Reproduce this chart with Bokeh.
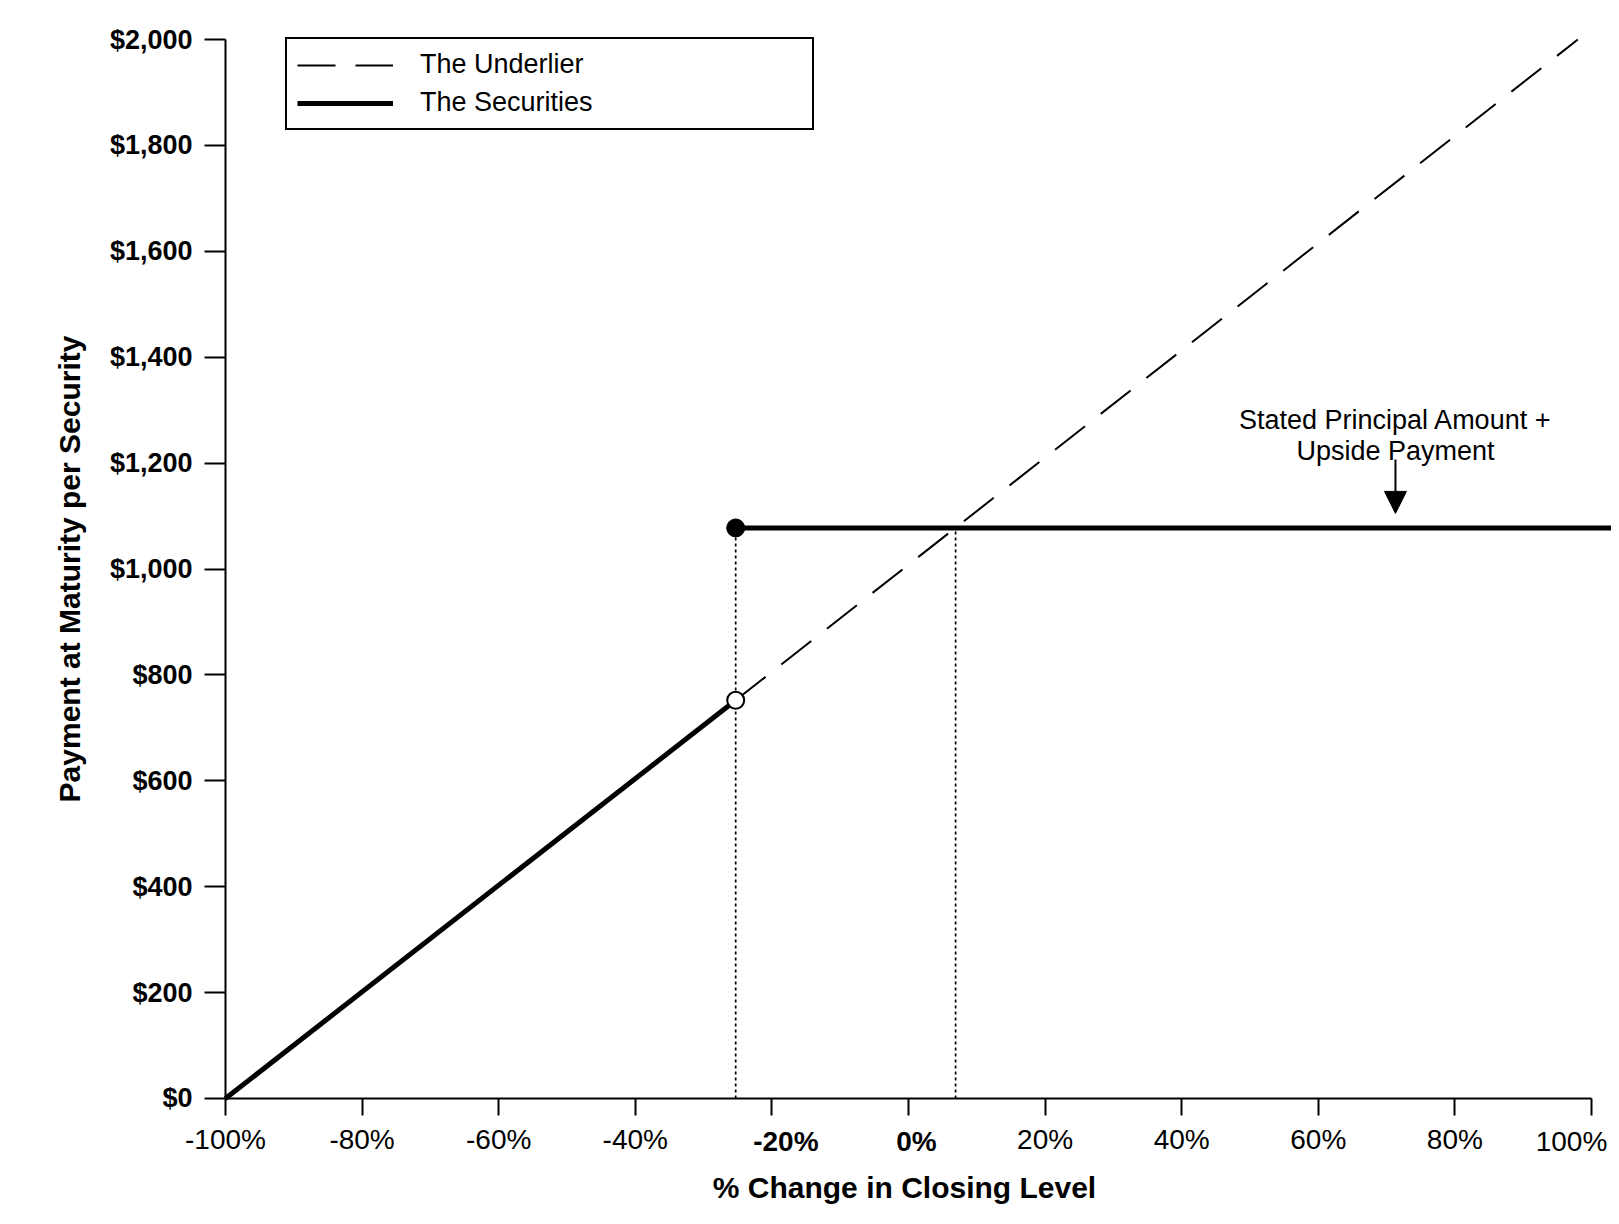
import math
from bokeh.plotting import figure
from bokeh.models import (Range1d, FixedTicker, NumeralTickFormatter, Legend,
                          LegendItem, Label, Arrow, NormalHead)
from bokeh.embed import file_html
from bokeh.resources import INLINE

FONT = "Liberation Sans"

# ---- data ----
underlier_pct = [-25.3, 98]
underlier_pay = [752, 2000]

sec_low_pct = [-100, -25.3]
sec_low_pay = [0, 752]
sec_high_pct = [-25.3, 105]
sec_high_pay = [1077.5, 1077.5]

barrier_pct = -25.3
barrier_pay = 752
upside_pay = 1077.5
cross_pct = 6.9

x_ticks = [-100, -80, -60, -40, -20, 0, 20, 40, 60, 80, 100]
x_tick_labels = ["-100%", "-80%", "-60%", "-40%", "-20%", "0%", "20%", "40%", "60%", "80%", "100%"]
bold_x_ticks = [-20, 0]
label_shift = {-20: 14, 0: 8, 100: -20}
y_ticks = [0, 200, 400, 600, 800, 1000, 1200, 1400, 1600, 1800, 2000]

x_title = "% Change in Closing Level"
y_title = "Payment at Maturity per Security"

annot_pct = 71.3
annot_text = "Stated Principal Amount +\nUpside Payment"
arrow_top = 1207
arrow_tip = 1105
annot_top = 1309

# frame covers the whole canvas; axes are placed at fixed data locations
p = figure(width=1611, height=1216, x_range=Range1d(-132.94, 102.93), y_range=Range1d(-222.9, 2073.7),
           output_backend="svg", toolbar_location=None,
           min_border_left=0, min_border_right=0, min_border_top=0, min_border_bottom=0)
p.grid.visible = False
p.outline_line_color = None
p.background_fill_color = "white"

# x axis
xa = p.xaxis[0]
xa.fixed_location = 0
xa.ticker = FixedTicker(ticks=x_ticks)
overrides = {}
for t, lab in zip(x_ticks, x_tick_labels):
    overrides[t] = "" if (t in bold_x_ticks or t == 100) else lab
xa.major_label_overrides = overrides
xa.bounds = (-100, 100)
xa.major_tick_out = 17
xa.major_tick_in = 0
xa.minor_tick_out = 0
xa.minor_tick_in = 0
xa.axis_line_width = 2
xa.major_tick_line_width = 2
xa.axis_line_color = "black"
xa.major_tick_line_color = "black"
xa.major_label_text_font = FONT
xa.major_label_text_font_size = "28px"
xa.major_label_text_color = "black"
xa.major_label_standoff = 9

# y axis
ya = p.yaxis[0]
ya.fixed_location = -100
ya.ticker = FixedTicker(ticks=y_ticks)
ya.formatter = NumeralTickFormatter(format="$0,0")
ya.bounds = (0, 2000)
ya.major_tick_out = 21
ya.major_tick_in = 0
ya.minor_tick_out = 0
ya.minor_tick_in = 0
ya.axis_line_width = 2
ya.major_tick_line_width = 2
ya.axis_line_color = "black"
ya.major_tick_line_color = "black"
ya.major_label_text_font = FONT
ya.major_label_text_font_size = "27px"
ya.major_label_text_font_style = "bold"
ya.major_label_text_color = "black"
ya.major_label_standoff = 12

# bold / shifted x tick labels
for t, lab in zip(x_ticks, x_tick_labels):
    if t in bold_x_ticks or t == 100:
        p.add_layout(Label(x=t, y=0, text=lab, text_align="center", text_baseline="middle",
                           y_offset=-43, x_offset=label_shift.get(t, 0),
                           text_font=FONT, text_font_size="28px",
                           text_font_style="bold" if t in bold_x_ticks else "normal",
                           text_color="black"))

# axis titles
p.add_layout(Label(x=0, y=0, x_offset=-4, y_offset=-89, text=x_title, text_align="center",
                   text_baseline="middle", text_font=FONT, text_font_size="30px",
                   text_font_style="bold", text_color="black"))
p.add_layout(Label(x=-100, y=1000, x_offset=-156, text=y_title, text_align="center",
                   text_baseline="middle", angle=math.pi / 2, text_font=FONT,
                   text_font_size="30px", text_font_style="bold", text_color="black"))

# lines
r_under = p.line(underlier_pct, underlier_pay, line_color="black", line_width=2, line_dash="38 20")
p.segment(x0=[barrier_pct, cross_pct], y0=[0, 0], x1=[barrier_pct, cross_pct],
          y1=[upside_pay, upside_pay], line_color="black", line_width=1.7, line_dash="3 3")
r_sec = p.line(sec_low_pct, sec_low_pay, line_color="black", line_width=5)
p.line(sec_high_pct, sec_high_pay, line_color="black", line_width=5)
p.scatter([barrier_pct], [upside_pay], size=18, fill_color="black", line_color="black")
p.scatter([barrier_pct], [barrier_pay], size=17, fill_color="white", line_color="black", line_width=2)

# annotation
p.add_layout(Label(x=annot_pct, y=annot_top, text=annot_text, text_align="center",
                   text_baseline="top", text_font=FONT, text_font_size="27px",
                   text_color="black", text_line_height=1.03))
p.add_layout(Arrow(end=NormalHead(size=22, fill_color="black", line_color="black"),
                   x_start=annot_pct, y_start=arrow_top, x_end=annot_pct, y_end=arrow_tip,
                   line_color="black", line_width=2))

legend = Legend(items=[LegendItem(label="The Underlier", renderers=[r_under]),
                       LegendItem(label="The Securities", renderers=[r_sec])],
                location=(285, 1086))
legend.border_line_color = "black"
legend.border_line_alpha = 1
legend.border_line_width = 2
legend.background_fill_color = "white"
legend.background_fill_alpha = 1
legend.padding = 10
legend.spacing = 7
legend.margin = 0
legend.label_height = 30
legend.glyph_height = 30
legend.glyph_width = 96
legend.label_standoff = 27
legend.label_width = 382
legend.label_text_font = FONT
legend.label_text_font_size = "27px"
legend.label_text_color = "black"
p.add_layout(legend)

open("out.html", "w").write(file_html(p, INLINE))
